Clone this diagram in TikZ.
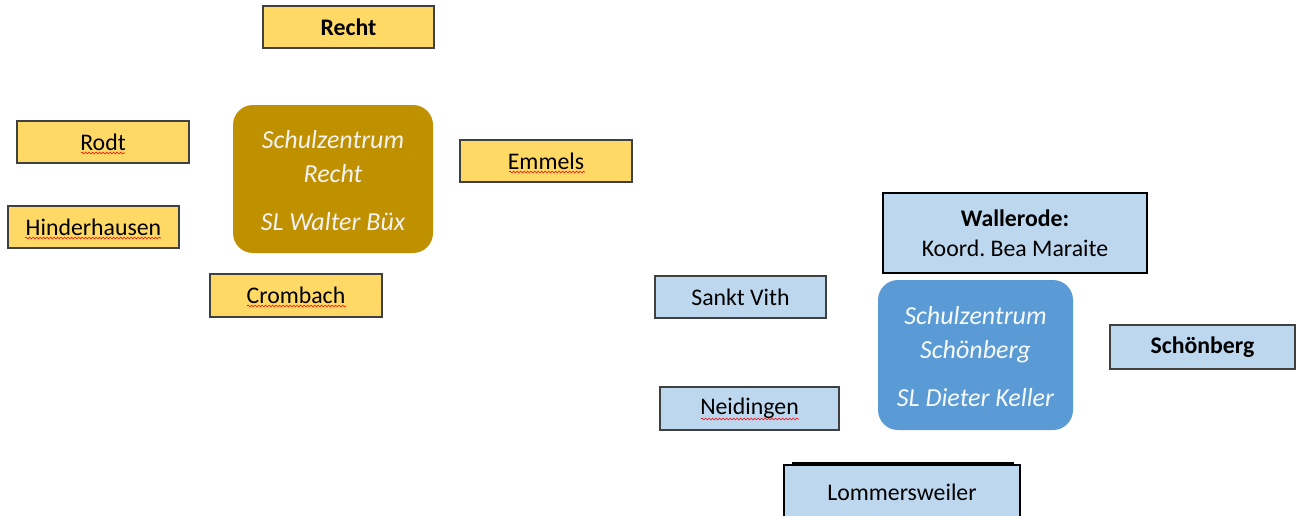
\documentclass[tikz,border=0pt]{standalone}
\usepackage{fontspec}
\setmainfont{Carlito}
\frenchspacing
\usetikzlibrary{decorations.pathmorphing}
\definecolor{ybox}{HTML}{FFD966}
\definecolor{yedge}{HTML}{404040}
\definecolor{gold}{HTML}{BF9000}
\definecolor{lblue}{HTML}{BDD7EE}
\definecolor{mblue}{HTML}{5B9BD5}
\definecolor{ltext}{HTML}{F2F2F2}
\tikzset{
  ybx/.style={draw=yedge, line width=1.3pt, fill=ybox, inner sep=0pt, font=\fontsize{23.8}{28}\selectfont},
  bbx/.style={draw=yedge, line width=1.3pt, fill=lblue, inner sep=0pt, font=\fontsize{23.8}{28}\selectfont},
  centerbox/.style={rounded corners=20pt, inner sep=0pt},
  centertext/.style={inner sep=0pt, align=center, text=ltext, font=\fontsize{26}{34}\selectfont\itshape},
  spell/.style={draw=red, line width=0.6pt, decorate, decoration={snake, segment length=3.5pt, amplitude=0.9pt}}
}
\begin{document}
\begin{tikzpicture}[x=1pt,y=-1pt]
\clip (0,0) rectangle (1298,515);
\fill[white] (0,0) rectangle (1298,515);
% yellow group
\node[ybx, minimum width=171pt, minimum height=42pt, font=\fontsize{23.8}{28}\selectfont\bfseries] (recht) at (348.5,27) {Recht};
\node[ybx, minimum width=172pt, minimum height=42pt] (rodt) at (103,142) {Rodt};
\node[ybx, minimum width=171pt, minimum height=42pt] (hind) at (93.5,227) {Hinderhausen};
\node[ybx, minimum width=172pt, minimum height=43pt] (crom) at (296,295.5) {Crombach};
\node[ybx, minimum width=172pt, minimum height=42pt] (emm) at (546,161) {Emmels};
\node[centerbox, fill=gold, minimum width=200pt, minimum height=148pt] (szr) at (333,179) {};
\node[centertext] (szrt) at (333,181) {Schulzentrum\\Recht\\[14pt]SL Walter Büx};
% blue group
\node[draw=black, line width=2.2pt, fill=lblue, inner sep=0pt, minimum width=264pt, minimum height=80pt, align=center, font=\fontsize{23.8}{30}\selectfont] (wall) at (1015,233) {\textbf{Wallerode:}\\Koord. Bea Maraite};
\node[bbx, minimum width=171pt, minimum height=42pt] (vith) at (740.5,297) {Sankt Vith};
\node[bbx, minimum width=179pt, minimum height=43pt] (neid) at (749.5,408.5) {Neidingen};
\node[bbx, minimum width=185pt, minimum height=44pt, font=\fontsize{23.8}{28}\selectfont\bfseries] (schb) at (1202.5,347) {Schönberg};
\node[centerbox, fill=mblue, minimum width=195pt, minimum height=150pt] (szs) at (975.5,355) {};
\node[centertext, text=white!95!mblue] (szst) at (975.5,357) {Schulzentrum\\Schönberg\\[14pt]SL Dieter Keller};
\node[draw=black, line width=2.5pt, fill=lblue, minimum width=220pt, minimum height=58pt] (lomb) at (903,492) {};
\node[draw=black, line width=2.8pt, fill=lblue, inner sep=0pt, minimum width=236pt, minimum height=54pt, font=\fontsize{23.8}{28}\selectfont] (lom) at (902,492) {Lommersweiler};
% spell-check underlines
\draw[spell] (81,153) -- (125,153);
\draw[spell] (25,238) -- (161,238);
\draw[spell] (247,306) -- (346,306);
\draw[spell] (509,172) -- (585,172);
\draw[spell] (701,419) -- (799,419);
\end{tikzpicture}
\end{document}
